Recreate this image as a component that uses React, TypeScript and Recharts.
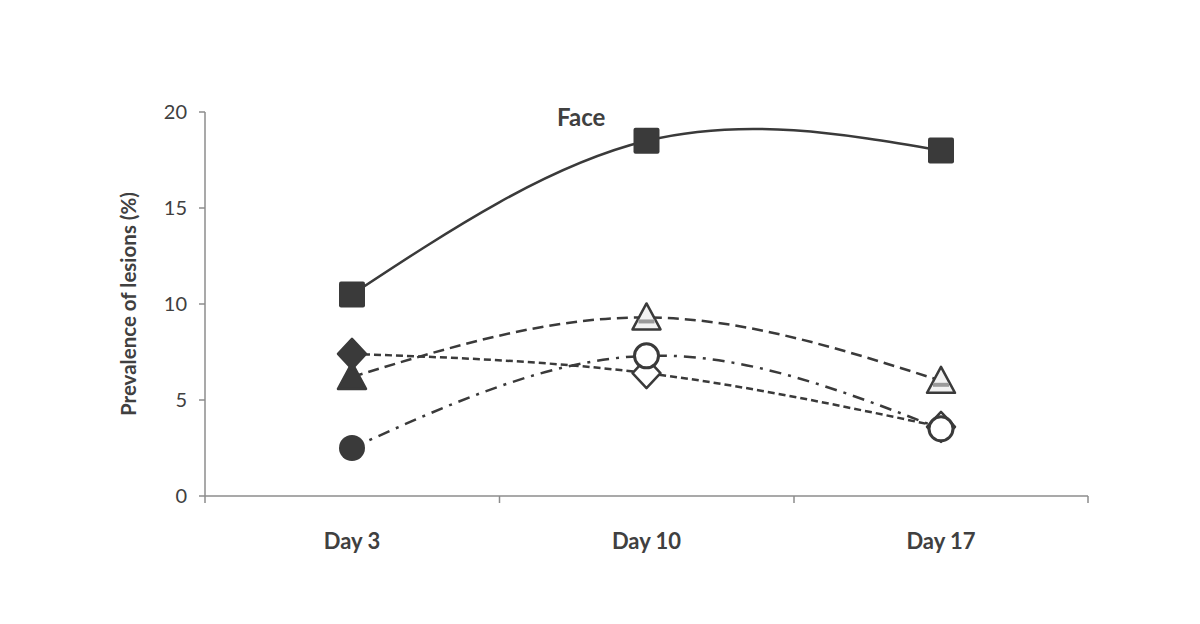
import React from "react";
import { LineChart, Line, XAxis, YAxis } from "recharts";

const categories = ["Day 3", "Day 10", "Day 17"];
const faceValues = [10.5, 18.5, 18.0];
const triangleValues = [6.2, 9.3, 6.0];
const diamondValues = [7.4, 6.4, 3.6];
const circleValues = [2.5, 7.3, 3.5];
const yTicks = [0, 5, 10, 15, 20];

const data = categories.map((day, i) => ({
  day,
  face: faceValues[i],
  triangle: triangleValues[i],
  diamond: diamondValues[i],
  circle: circleValues[i],
}));

const INK = "#3a3a3a";
const AXIS = "#8c8c8c";
const FONT = "Lato, 'Open Sans', sans-serif";
const AXIS_Y = 496;
const HALF_BAND = 147;

type Shape = "square" | "triangle" | "diamond" | "circle";

function Marker({ cx, cy, index, shape }: { cx?: number; cy?: number; index?: number; shape: Shape }) {
  if (cx == null || cy == null) return null;
  const first = index === 0;
  if (shape === "square") {
    return <rect x={cx - 13} y={cy - 13} width={26} height={26} rx={2} fill={INK} />;
  }
  if (shape === "diamond") {
    const pts = `${cx},${cy - 15} ${cx + 14},${cy} ${cx},${cy + 15} ${cx - 14},${cy}`;
    return <polygon points={pts} fill={first ? INK : "#fff"} stroke={INK} strokeWidth={2.5} strokeLinejoin="round" />;
  }
  if (shape === "triangle") {
    const pts = `${cx},${cy - 14} ${cx + 14},${cy + 12} ${cx - 14},${cy + 12}`;
    return (
      <g>
        <polygon points={pts} fill={first ? INK : "#f2f2f2"} stroke={INK} strokeWidth={2.5} strokeLinejoin="round" />
        {!first && <line x1={cx - 8} x2={cx + 8} y1={cy + 4} y2={cy + 4} stroke="#9a9a9a" strokeWidth={4} />}
      </g>
    );
  }
  return <circle cx={cx} cy={cy} r={first ? 13 : 12} fill={first ? INK : "#fff"} stroke={INK} strokeWidth={first ? 0 : 3} />;
}

const dotFor = (shape: Shape) => (props: any) => (
  <Marker key={`${shape}-${props.index}`} cx={props.cx} cy={props.cy} index={props.index} shape={shape} />
);

function XTick({ x, payload, index }: any) {
  const last = index === categories.length - 1;
  return (
    <g>
      <line x1={x - HALF_BAND} x2={x - HALF_BAND} y1={AXIS_Y} y2={AXIS_Y + 7} stroke={AXIS} strokeWidth={1.5} />
      {last && <line x1={x + HALF_BAND} x2={x + HALF_BAND} y1={AXIS_Y} y2={AXIS_Y + 7} stroke={AXIS} strokeWidth={1.5} />}
      <text x={x} y={549} textAnchor="middle" fontFamily={FONT} fontWeight={700} fontSize={22} fill="#404040">
        {payload.value}
      </text>
    </g>
  );
}

export default function App() {
  return (
    <div style={{ position: "relative", width: 1200, height: 624, background: "#fff" }}>
      <style>{`body{margin:0}`}</style>
      <LineChart width={1200} height={624} data={data} margin={{ top: 112, right: 112, bottom: 0, left: 0 }}>
        <XAxis
          dataKey="day"
          height={128}
          padding={{ left: HALF_BAND, right: HALF_BAND }}
          axisLine={{ stroke: AXIS, strokeWidth: 1.5 }}
          tickLine={false}
          tick={<XTick />}
          interval={0}
        />
        <YAxis
          width={205}
          domain={[0, 20]}
          ticks={yTicks}
          interval={0}
          axisLine={{ stroke: AXIS, strokeWidth: 1.5 }}
          tickLine={{ stroke: AXIS, strokeWidth: 1.5 }}
          tickSize={6}
          tickMargin={12}
          tick={{ fontFamily: FONT, fontSize: 20, fill: "#404040" }}
          label={{
            value: "Prevalence of lesions (%)",
            angle: -90,
            position: "center",
            dx: 26,
            style: { fontFamily: FONT, fontWeight: 700, fontSize: 20.5, fill: "#404040" },
          }}
        />
        <Line
          type="natural"
          dataKey="triangle"
          stroke={INK}
          strokeWidth={2.5}
          strokeDasharray="11 6"
          dot={dotFor("triangle")}
          activeDot={false}
          isAnimationActive={false}
        />
        <Line
          type="natural"
          dataKey="diamond"
          stroke={INK}
          strokeWidth={2.5}
          strokeDasharray="7 4"
          dot={dotFor("diamond")}
          activeDot={false}
          isAnimationActive={false}
        />
        <Line
          type="natural"
          dataKey="circle"
          stroke={INK}
          strokeWidth={2.5}
          strokeDasharray="12 7 3 7"
          dot={dotFor("circle")}
          activeDot={false}
          isAnimationActive={false}
        />
        <Line
          type="natural"
          dataKey="face"
          stroke={INK}
          strokeWidth={2.5}
          dot={dotFor("square")}
          activeDot={false}
          isAnimationActive={false}
        />
      </LineChart>
      <div
        style={{
          position: "absolute",
          left: 557,
          top: 103,
          fontFamily: FONT,
          fontWeight: 700,
          fontSize: 24,
          lineHeight: "28px",
          color: "#404040",
        }}
      >
        Face
      </div>
    </div>
  );
}
